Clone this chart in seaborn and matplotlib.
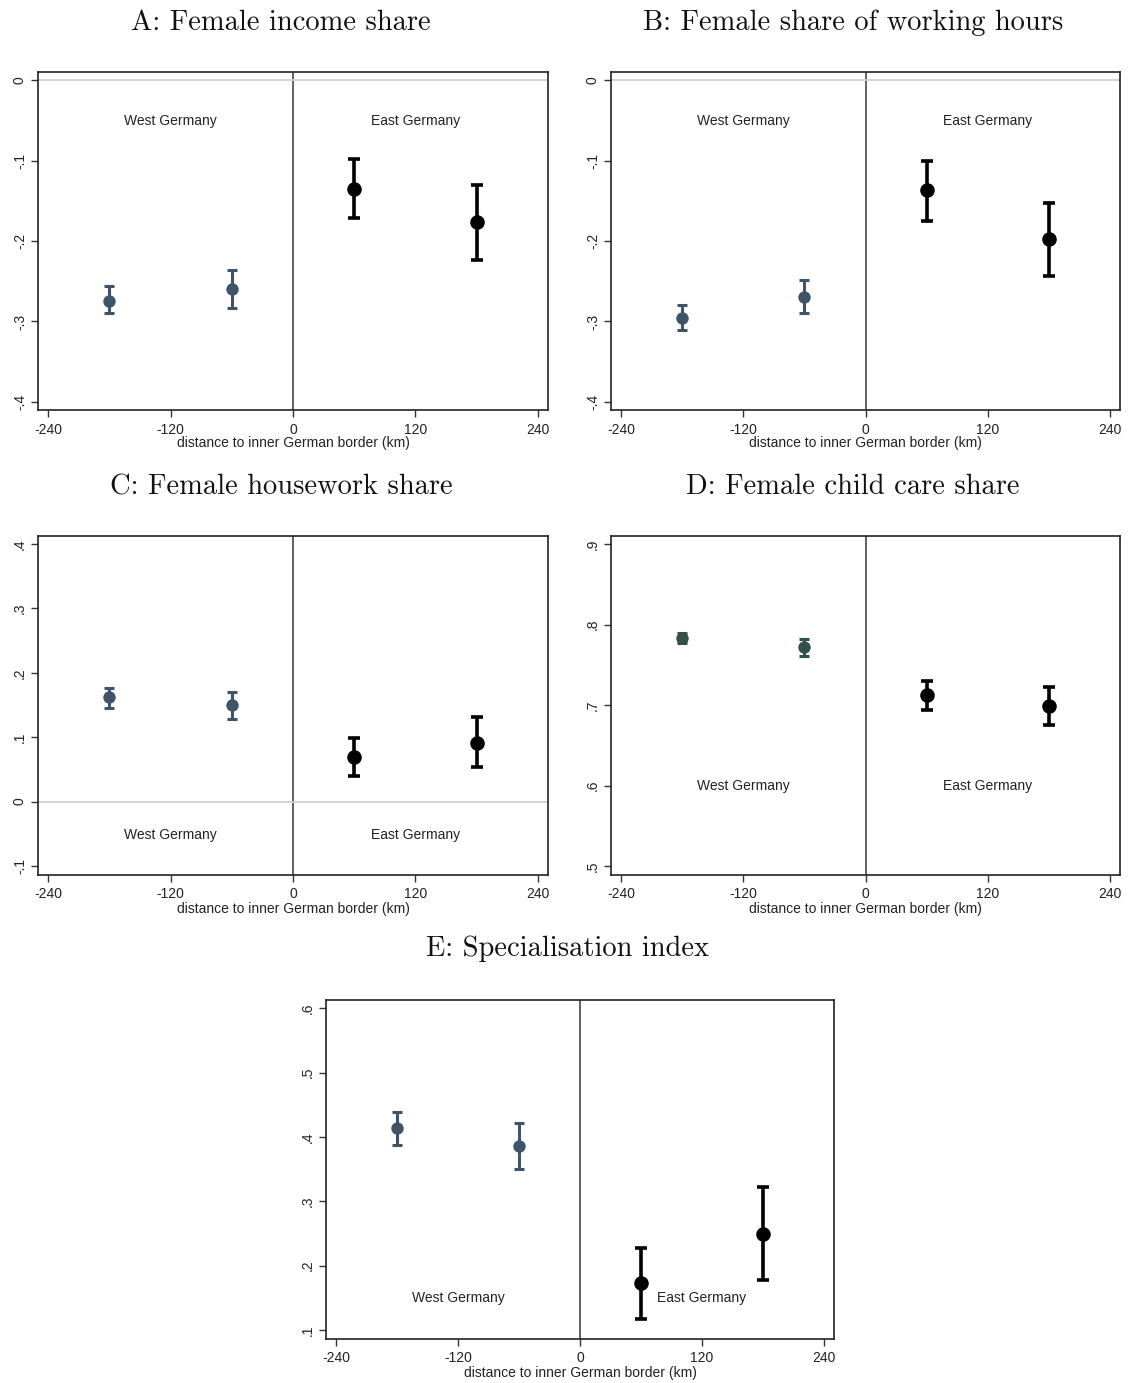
import numpy as np
import pandas as pd
import matplotlib
matplotlib.use("Agg")
import matplotlib.pyplot as plt
from matplotlib.ticker import FuncFormatter
import seaborn as sns

sns.set_theme(style="white")
plt.rcParams["font.family"] = ["Liberation Sans", "DejaVu Sans"]
plt.rcParams["axes.unicode_minus"] = False

# Distance bins (km from the inner German border), bin midpoints
distance = [-180, -60, 60, 180]
region = ["West", "West", "East", "East"]

# Point estimates and 95% confidence bounds per panel
income_est = [-0.274, -0.260, -0.135, -0.177]
income_lo = [-0.289, -0.283, -0.172, -0.224]
income_hi = [-0.256, -0.236, -0.098, -0.131]

hours_est = [-0.296, -0.269, -0.137, -0.197]
hours_lo = [-0.311, -0.290, -0.175, -0.244]
hours_hi = [-0.280, -0.249, -0.101, -0.153]

housework_est = [0.162, 0.150, 0.069, 0.091]
housework_lo = [0.145, 0.129, 0.040, 0.053]
housework_hi = [0.177, 0.170, 0.098, 0.132]

childcare_est = [0.783, 0.772, 0.713, 0.699]
childcare_lo = [0.777, 0.761, 0.694, 0.675]
childcare_hi = [0.790, 0.782, 0.730, 0.722]

special_est = [0.414, 0.386, 0.173, 0.249]
special_lo = [0.388, 0.351, 0.117, 0.178]
special_hi = [0.439, 0.422, 0.227, 0.322]

titles = ["A: Female income share", "B: Female share of working hours",
          "C: Female housework share", "D: Female child care share",
          "E: Specialisation index"]
x_ticks = [-240, -120, 0, 120, 240]
x_label = "distance to inner German border (km)"

W, H = 1130, 1383
fig = plt.figure(figsize=(W / 100, H / 100), dpi=100)


def px_axes(left, right, top, bottom):
    return fig.add_axes([left / W, 1 - bottom / H, (right - left) / W, (bottom - top) / H])


def stata_fmt(v, pos):
    if abs(v) < 1e-9:
        return "0"
    return f"{v:.1f}".replace("0.", ".")


def panel(ax, est, lo, hi, yticks, ylim, label_y, zero_line, west_color):
    df = pd.DataFrame({"distance": distance, "est": est, "lo": lo, "hi": hi, "region": region})
    ax.axvline(0, color="#555555", lw=1.3, zorder=1)
    if zero_line:
        ax.axhline(0, color="#d0d0d0", lw=1.3, zorder=1)
    for reg, col, lw, cs, ms in [("West", west_color, 2.2, 3.6, 80), ("East", "black", 2.6, 4.3, 110)]:
        sub = df[df.region == reg]
        ax.errorbar(sub.distance, sub.est, yerr=[sub.est - sub.lo, sub.hi - sub.est],
                    fmt="none", ecolor=col, elinewidth=lw, capsize=cs, capthick=lw, zorder=3)
        sns.scatterplot(data=sub, x="distance", y="est", ax=ax, color=col, s=ms,
                        edgecolor=col, linewidth=0, zorder=4, legend=False)
    ax.text(-120, label_y, "West Germany", ha="center", va="center", fontsize=10, color="#222222")
    ax.text(120, label_y, "East Germany", ha="center", va="center", fontsize=10, color="#222222")
    ax.set_xlim(-250, 250)
    ax.set_ylim(*ylim)
    ax.set_xticks(x_ticks)
    ax.set_yticks(yticks)
    ax.yaxis.set_major_formatter(FuncFormatter(stata_fmt))
    ax.tick_params(axis="both", which="major", direction="out", length=5, width=1,
                   color="#333333", labelsize=10, labelcolor="#222222", pad=3, left=True, bottom=True)
    ax.tick_params(axis="x", pad=4)
    for lab in ax.get_yticklabels():
        lab.set_rotation(90)
        lab.set_va("center")
    ax.set_xlabel(x_label, fontsize=10, color="#222222", labelpad=0)
    ax.set_ylabel("")
    for sp in ax.spines.values():
        sp.set_color("#222222")
        sp.set_linewidth(1.2)


west = "#3e5468"

axA = px_axes(38, 548, 72, 410)
panel(axA, income_est, income_lo, income_hi, [0, -0.1, -0.2, -0.3, -0.4], (-0.41, 0.01), -0.051, True, west)

axB = px_axes(611, 1120, 72, 410)
panel(axB, hours_est, hours_lo, hours_hi, [0, -0.1, -0.2, -0.3, -0.4], (-0.41, 0.01), -0.051, True, west)

axC = px_axes(38, 548, 536, 875)
panel(axC, housework_est, housework_lo, housework_hi, [0.4, 0.3, 0.2, 0.1, 0, -0.1], (-0.114, 0.4125), -0.052, True, west)

axD = px_axes(611, 1120, 536, 875)
panel(axD, childcare_est, childcare_lo, childcare_hi, [0.9, 0.8, 0.7, 0.6, 0.5], (0.489, 0.91), 0.6, False, "#33504a")

axE = px_axes(326, 834, 1000, 1339)
panel(axE, special_est, special_lo, special_hi, [0.6, 0.5, 0.4, 0.3, 0.2, 0.1], (0.086, 0.613), 0.15, False, west)

title_pos = [(281, 23), (853, 23), (281, 487), (853, 487), (567, 949)]
for t, (cx, cy) in zip(titles, title_pos):
    fig.text(cx / W, 1 - cy / H, t, ha="center", va="center", fontsize=20.5,
             family=["cmr10", "DejaVu Serif"], color="#111111")

fig.savefig("out.png", dpi=100, facecolor="white")
